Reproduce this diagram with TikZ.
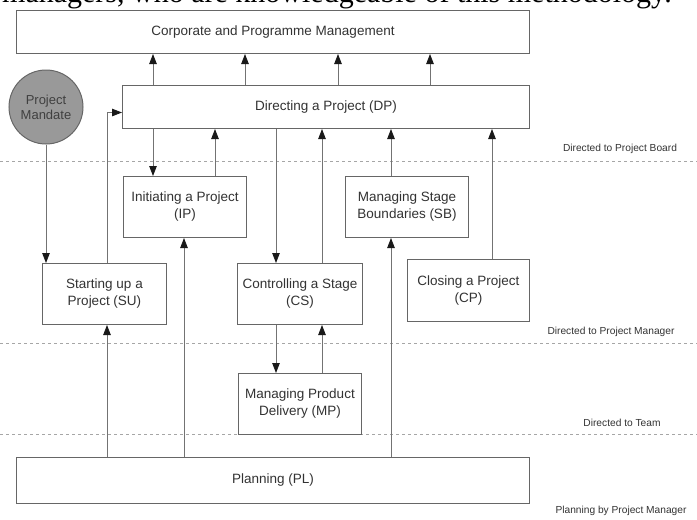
\documentclass[tikz,border=0pt]{standalone}
\usepackage{fontspec}
\setmainfont{Liberation Sans}
\newfontfamily\pageserif{Liberation Serif}
\usetikzlibrary{arrows.meta}

\begin{document}
\begin{tikzpicture}[x=1pt,y=-1pt,
  proc/.style={draw=black!60, line width=1pt, fill=white, text=black!80,
    font=\fontsize{13.5}{17}\selectfont, align=center, inner sep=0pt,
    anchor=north west},
  flow/.style={draw=black!55, line width=0.9pt,
    -{Triangle[length=10pt,width=7.5pt,color=black!90]}},
  sep/.style={draw=black!35, line width=0.9pt, dash pattern=on 3pt off 3pt},
  lane/.style={text=black!80, font=\fontsize{10.2}{12}\selectfont, inner sep=0pt}
]
\useasboundingbox (0,0) rectangle (697,520);
\fill[white] (0,0) rectangle (697,520);

% running text of the page above the figure
\begin{scope}
  \clip (0,0) rectangle (697,520);
  \node[anchor=base west, inner sep=0pt, font=\pageserif\fontsize{30}{30}\selectfont]
    (pagetext) at (2,2.5) {managers, who are knowledgeable of this methodology.};
\end{scope}

% lane separators
\draw[sep] (0,161) -- (697,161);
\draw[sep] (0,343) -- (697,343);
\draw[sep] (0,434) -- (697,434);

% lane labels
\node[lane] (lbBoard) at (620,149) {Directed to Project Board};
\node[lane] (lbPM)    at (611,332) {Directed to Project Manager};
\node[lane] (lbTeam)  at (622,423) {Directed to Team};
\node[lane] (lbPlan)  at (621,511) {Planning by Project Manager};

% processes
\node[proc, minimum width=513pt, minimum height=43pt] (CPM) at (16,10)  {Corporate and Programme Management};
\node[proc, minimum width=407pt, minimum height=43pt] (DP)  at (122,85) {Directing a Project (DP)};
\node[proc, minimum width=123pt, minimum height=61pt] (IP)  at (123,176) {Initiating a Project\\(IP)};
\node[proc, minimum width=123pt, minimum height=61pt] (SB)  at (345,176) {Managing Stage\\Boundaries (SB)};
\node[proc, minimum width=124pt, minimum height=61pt] (SU)  at (42,263)  {Starting up a\\Project (SU)};
\node[proc, minimum width=125pt, minimum height=61pt] (CS)  at (237,263) {Controlling a Stage\\(CS)};
\node[proc, minimum width=122pt, minimum height=62pt] (CP)  at (407,259) {Closing a Project\\(CP)};
\node[proc, minimum width=123pt, minimum height=61pt] (MP)  at (238,373) {Managing Product\\Delivery (MP)};
\node[proc, minimum width=513pt, minimum height=46pt] (PL)  at (16,457) {Planning (PL)};

\node[circle, draw=black!60, line width=1pt, fill=black!40, minimum size=74pt,
  inner sep=0pt, align=center, text=black!75, font=\fontsize{13}{15}\selectfont]
  (PMd) at (46,107) {Project\\Mandate};

% connector columns
\coordinate (c107) at (107,0);
\coordinate (c153) at (153,0);
\coordinate (c184) at (184,0);
\coordinate (c215) at (215,0);
\coordinate (c245) at (245,0);
\coordinate (c276) at (276,0);
\coordinate (c322) at (322,0);
\coordinate (c338) at (338,0);
\coordinate (c391) at (391,0);
\coordinate (c430) at (430,0);
\coordinate (c492) at (492,0);

% DP reports upwards
\draw[flow] (c153 |- DP.north) -- (c153 |- CPM.south);
\draw[flow] (c245 |- DP.north) -- (c245 |- CPM.south);
\draw[flow] (c338 |- DP.north) -- (c338 |- CPM.south);
\draw[flow] (c430 |- DP.north) -- (c430 |- CPM.south);

% mandate and start-up
\draw[flow] (PMd.south) -- (PMd.south |- SU.north);
\draw[flow] (c107 |- SU.north) |- ([yshift=-5.5pt]DP.west);

% between DP and the stage processes
\draw[flow] (c153 |- DP.south) -- (c153 |- IP.north);
\draw[flow] (c215 |- IP.north) -- (c215 |- DP.south);
\draw[flow] (c276 |- DP.south) -- (c276 |- CS.north);
\draw[flow] (c322 |- CS.north) -- (c322 |- DP.south);
\draw[flow] (c391 |- SB.north) -- (c391 |- DP.south);
\draw[flow] (c492 |- CP.north) -- (c492 |- DP.south);

% CS and MP
\draw[flow] (c276 |- CS.south) -- (c276 |- MP.north);
\draw[flow] (c322 |- MP.north) -- (c322 |- CS.south);

% planning feeds
\draw[flow] (c107 |- PL.north) -- (c107 |- SU.south);
\draw[flow] (c184 |- PL.north) -- (c184 |- IP.south);
\draw[flow] (c391 |- PL.north) -- (c391 |- SB.south);
\end{tikzpicture}
\end{document}
